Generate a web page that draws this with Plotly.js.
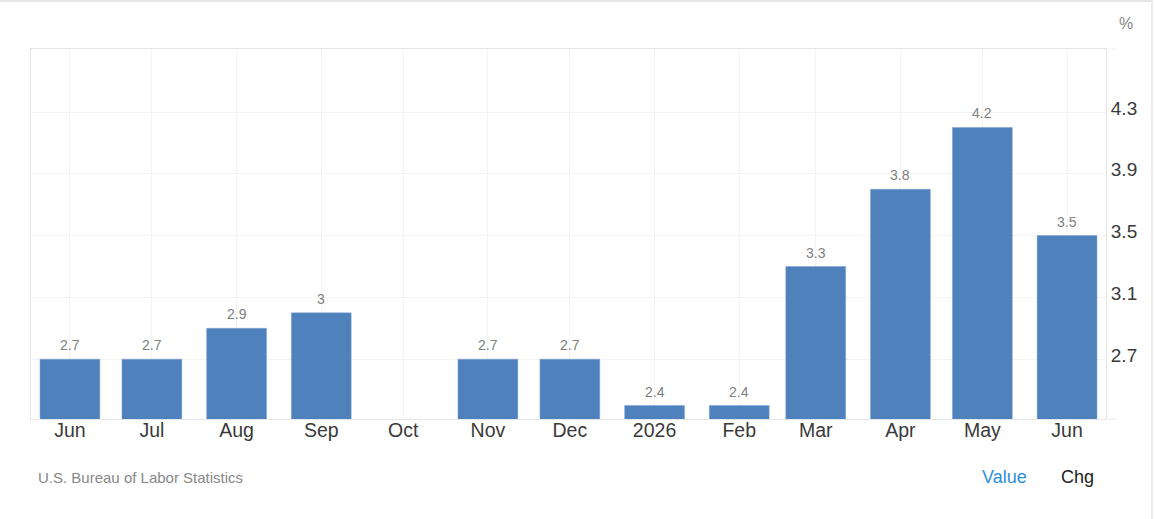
<!DOCTYPE html>
<html>
<head>
<meta charset="utf-8">
<script src="https://cdn.plot.ly/plotly-3.0.1.min.js"></script>
<style>
  html, body { margin: 0; padding: 0; background: #fff; }
  #plot { width: 1154px; height: 519px; }
  #frame { position: absolute; left: 0; top: 0; width: 1151px; height: 519px;
           border-top: 2px solid #e6e6e6; border-right: 2px solid #ececec;
           box-sizing: content-box; pointer-events: none; }
</style>
</head>
<body>
<div id="plot"></div>
<div id="frame"></div>
<script>
const months = ["2025-06-01", "2025-07-01", "2025-08-01", "2025-09-01", "2025-10-01", "2025-11-01",
  "2025-12-01", "2026-01-01", "2026-02-01", "2026-03-01", "2026-04-01", "2026-05-01", "2026-06-01"];
const monthLabels = ["Jun", "Jul", "Aug", "Sep", "Oct", "Nov", "Dec", "2026", "Feb", "Mar", "Apr", "May", "Jun"];
const values = [2.7, 2.7, 2.9, 3, null, 2.7, 2.7, 2.4, 2.4, 3.3, 3.8, 4.2, 3.5];
const yTicks = [2.7, 3.1, 3.5, 3.9, 4.3];
const yTickLabels = ["2.7", "3.1", "3.5", "3.9", "4.3"];

const font = "Liberation Sans, Arial, sans-serif";
const dayMs = 86400000;
const barDays = 21.9;

const bars = {
  type: "bar",
  x: months,
  y: values,
  width: barDays * dayMs,
  marker: { color: "#4f81bd", line: { color: "#7aa0d0", width: 0.5 } },
  hoverinfo: "skip"
};

// value labels as annotations: bar text and scatter text can't be pushed far enough up
const valueLabels = [];
months.forEach((m, i) => {
  if (values[i] === null) return;
  valueLabels.push({
    text: String(values[i]), x: m, y: values[i], xref: "x", yref: "y",
    xanchor: "center", yanchor: "middle", yshift: 14, showarrow: false,
    font: { family: font, size: 14, color: "#808080" }
  });
});

const layout = {
  width: 1154,
  height: 519,
  margin: { l: 31, r: 48, t: 49, b: 100, pad: 0 },
  paper_bgcolor: "#ffffff",
  plot_bgcolor: "#ffffff",
  showlegend: false,
  bargap: 0,
  xaxis: {
    type: "date",
    range: ["2025-05-17 18:00", "2026-06-15 06:00"],
    tickmode: "array",
    tickvals: months,
    ticktext: monthLabels,
    ticks: "",
    ticklabelstandoff: -6,
    tickfont: { family: font, size: 19.5, color: "#3a3a3a" },
    showgrid: true,
    gridcolor: "#f3f3f3",
    gridwidth: 1,
    showline: true,
    linecolor: "#e6e6e6",
    linewidth: 1,
    mirror: true,
    zeroline: false
  },
  yaxis: {
    side: "right",
    range: [2.313, 4.708],
    tickmode: "array",
    tickvals: yTicks,
    ticktext: yTickLabels,
    ticks: "",
    ticklabelshift: -4,
    tickfont: { family: font, size: 19, color: "#3a3a3a" },
    showgrid: true,
    gridcolor: "#f3f3f3",
    gridwidth: 1,
    showline: true,
    linecolor: "#e6e6e6",
    linewidth: 1,
    mirror: true,
    zeroline: false
  },
  shapes: [
    { type: "line", xref: "paper", yref: "paper", x0: 1, x1: 1.011, y0: 0, y1: 0, line: { color: "#eeeeee", width: 1 } },
    { type: "line", xref: "paper", yref: "paper", x0: 1, x1: 1.011, y0: 1, y1: 1, line: { color: "#f3f3f3", width: 1 } }
  ],
  annotations: valueLabels.concat([
    { text: "%", xref: "paper", yref: "paper", x: 1.019, y: 1.07, xanchor: "center", yanchor: "middle", showarrow: false,
      font: { family: font, size: 16, color: "#888888" } },
    { text: "U.S. Bureau of Labor Statistics", xref: "paper", yref: "paper", x: 0.0046, y: -0.157, xanchor: "left", yanchor: "middle", showarrow: false,
      font: { family: font, size: 15, color: "#888888" } },
    { text: "Value", xref: "paper", yref: "paper", x: 0.8828, y: -0.157, xanchor: "left", yanchor: "middle", showarrow: false,
      font: { family: font, size: 18, color: "#2e8fd8" } },
    { text: "Chg", xref: "paper", yref: "paper", x: 0.9563, y: -0.157, xanchor: "left", yanchor: "middle", showarrow: false,
      font: { family: font, size: 18, color: "#222222" } }
  ])
};

Plotly.newPlot("plot", [bars], layout, { displayModeBar: false, staticPlot: true });
</script>
</body>
</html>
